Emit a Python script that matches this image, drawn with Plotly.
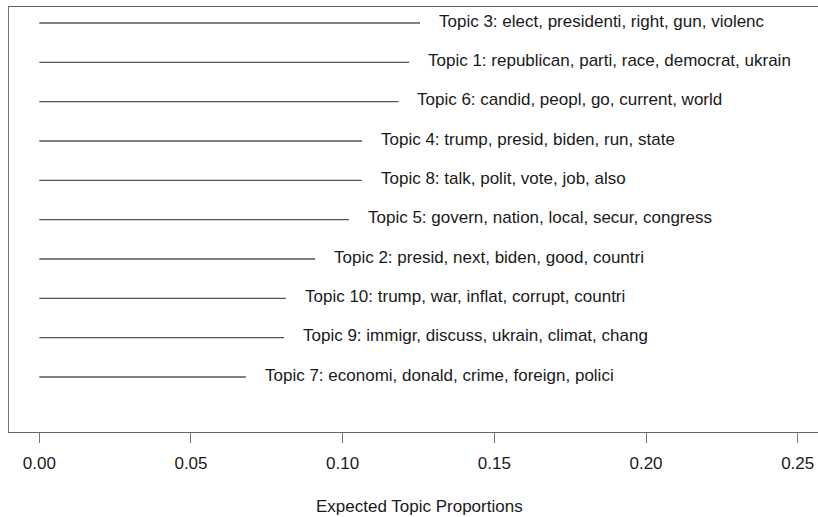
import plotly.graph_objects as go

topics = ["Topic 7", "Topic 9", "Topic 10", "Topic 2", "Topic 5",
          "Topic 8", "Topic 4", "Topic 6", "Topic 1", "Topic 3"]
words = ["economi, donald, crime, foreign, polici",
         "immigr, discuss, ukrain, climat, chang",
         "trump, war, inflat, corrupt, countri",
         "presid, next, biden, good, countri",
         "govern, nation, local, secur, congress",
         "talk, polit, vote, job, also",
         "trump, presid, biden, run, state",
         "candid, peopl, go, current, world",
         "republican, parti, race, democrat, ukrain",
         "elect, presidenti, right, gun, violenc"]
proportions = [0.0681, 0.0807, 0.0813, 0.0909, 0.1021,
               0.1063, 0.1064, 0.1184, 0.1219, 0.1255]
tick_vals = [0.00, 0.05, 0.10, 0.15, 0.20, 0.25]
tick_text = ["0.00", "0.05", "0.10", "0.15", "0.20", "0.25"]

FONT = "Liberation Sans, Arial, Helvetica, sans-serif"
FS = 17

fig = go.Figure()
for i, (t, p) in enumerate(zip(topics, proportions)):
    fig.add_trace(go.Scatter(x=[0, p], y=[i + 1, i + 1], mode="lines",
                             line=dict(color="#555555", width=1.3),
                             showlegend=False, hoverinfo="skip"))
    fig.add_annotation(x=p, y=i + 1, text=f"{t}: {words[i]}",
                       xanchor="left", yanchor="middle", showarrow=False,
                       xshift=17, yshift=2,
                       font=dict(family=FONT, size=FS, color="#1a1a1a"))

fig.add_annotation(xref="paper", yref="paper", x=0.5068, y=0, yshift=-74,
                   text="Expected Topic Proportions", showarrow=False,
                   xanchor="center", yanchor="middle",
                   font=dict(family=FONT, size=FS, color="#1a1a1a"))

fig.update_layout(
    width=818, height=517,
    margin=dict(l=9, r=0, t=7, b=85),
    paper_bgcolor="white", plot_bgcolor="white",
    xaxis=dict(range=[-0.00999, 0.2567], tickvals=tick_vals, ticktext=tick_text,
               showgrid=False, zeroline=False, showline=True, mirror=True,
               linecolor="#666666", linewidth=1.3,
               ticks="outside", ticklen=10, tickwidth=1.3, tickcolor="#777777",
               ticklabelstandoff=5,
               tickfont=dict(family=FONT, size=FS, color="#1a1a1a")),
    yaxis=dict(range=[-0.398, 10.407], showgrid=False, zeroline=False,
               showline=True, linecolor="#777777", linewidth=1.3,
               showticklabels=False, ticks=""),
)

fig.write_html("out.html", config={"displayModeBar": False},
               post_script="document.body.style.margin='0';document.body.style.overflow='hidden';")
